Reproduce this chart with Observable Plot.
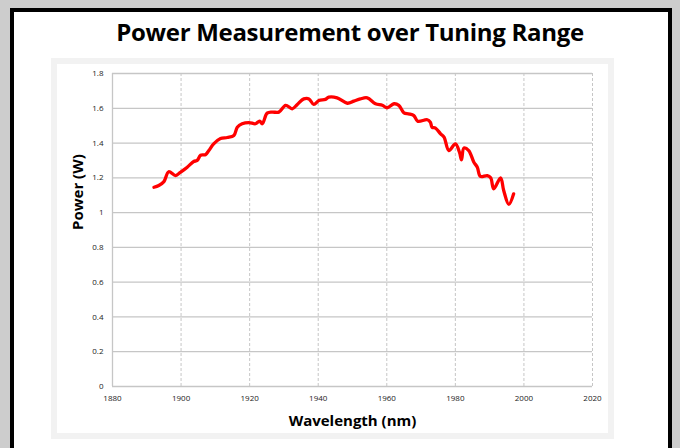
<!DOCTYPE html>
<html>
<head>
<meta charset="utf-8">
<script src="https://cdn.jsdelivr.net/npm/d3@7"></script>
<script src="https://cdn.jsdelivr.net/npm/@observablehq/plot@0.6"></script>
<style>
  html, body { margin: 0; padding: 0; }
  body { width: 680px; height: 448px; background: #cdcdcd; position: relative; overflow: hidden; font-family: "Open Sans", sans-serif; }
  #frame { position: absolute; left: 10px; top: 8px; width: 654px; height: 460px; border: 4px solid #000; background: #fff; }
  #title { position: absolute; left: 0; top: 15px; width: 700px; text-align: center; font-weight: bold; font-size: 24px; color: #000; letter-spacing: -0.3px; }
  #panel { position: absolute; left: 51px; top: 58px; width: 551px; height: 369px; border: 6px solid #f2f2f2; background: #fff; }
  #panel svg { display: block; }
</style>
</head>
<body>
<div id="frame"></div>
<div id="title">Power Measurement over Tuning Range</div>
<div id="panel"></div>
<script>
// Data
const wavelength = [1892.1, 1893.5, 1895.0, 1896.4, 1898.4, 1899.8, 1901.8, 1903.7, 1904.7, 1905.7, 1907.1, 1908.1, 1909.5, 1911.5, 1913.5, 1915.4, 1916.4, 1917.8, 1919.8, 1921.7, 1922.9, 1923.7, 1925.1, 1926.6, 1928.5, 1930.5, 1932.4, 1933.9, 1935.8, 1937.3, 1938.7, 1940.2, 1942.1, 1943.1, 1945.5, 1948.5, 1950.4, 1952.3, 1954.3, 1956.7, 1958.7, 1960.1, 1962.1, 1963.5, 1965.0, 1966.4, 1967.9, 1969.0, 1971.8, 1972.7, 1973.2, 1974.2, 1975.7, 1976.7, 1978.1, 1980.0, 1981.2, 1981.8, 1982.5, 1983.9, 1985.4, 1986.4, 1987.3, 1989.3, 1990.3, 1991.2, 1993.2, 1994.1, 1995.6, 1997.0];
const power = [1.146, 1.156, 1.178, 1.235, 1.213, 1.232, 1.261, 1.294, 1.300, 1.330, 1.333, 1.357, 1.395, 1.426, 1.432, 1.443, 1.491, 1.511, 1.518, 1.511, 1.526, 1.511, 1.572, 1.578, 1.578, 1.617, 1.597, 1.622, 1.654, 1.654, 1.622, 1.645, 1.651, 1.664, 1.660, 1.629, 1.641, 1.654, 1.660, 1.626, 1.617, 1.603, 1.626, 1.617, 1.574, 1.568, 1.558, 1.526, 1.534, 1.520, 1.491, 1.486, 1.453, 1.434, 1.357, 1.395, 1.347, 1.303, 1.372, 1.357, 1.290, 1.261, 1.208, 1.213, 1.200, 1.137, 1.200, 1.127, 1.047, 1.108];
const xTicks = [1880, 1900, 1920, 1940, 1960, 1980, 2000, 2020];
const yTicks = [0, 0.2, 0.4, 0.6, 0.8, 1, 1.2, 1.4, 1.6, 1.8];
const xLabel = "Wavelength (nm)";
const yLabel = "Power (W)";

const data = wavelength.map((w, i) => ({w, p: power[i]}));

const chart = Plot.plot({
  width: 551,
  height: 369,
  marginLeft: 55,
  marginRight: 16,
  marginTop: 9,
  marginBottom: 47,
  style: {fontFamily: "'Open Sans', sans-serif", background: "#fff", color: "#222"},
  x: {domain: [1880, 2020], ticks: xTicks, tickFormat: d => String(d), label: null},
  y: {domain: [0, 1.8], ticks: yTicks, tickFormat: d => String(d), label: null},
  marks: [
    Plot.ruleY(yTicks, {stroke: "#c6c6c6", strokeWidth: 1.3}),
    Plot.ruleX(xTicks.slice(1), {stroke: "#c6c6c6", strokeWidth: 1, strokeDasharray: "3,2"}),
    Plot.ruleX([1880], {stroke: "#c6c6c6", strokeWidth: 1.3}),
    Plot.axisX({ticks: xTicks, tickSize: 0, tickPadding: 9, fontSize: 8, tickFormat: d => String(d), label: null}),
    Plot.axisY({ticks: yTicks, tickSize: 0, tickPadding: 9, fontSize: 8, tickFormat: d => String(d), label: null}),
    Plot.lineY(data, {x: "w", y: "p", stroke: "#ff0000", strokeWidth: 3.3, curve: "catmull-rom"}),
    Plot.text([xLabel], {frameAnchor: "bottom", dy: 39, fontSize: 15, fontWeight: "bold", fill: "#000"}),
    Plot.text([yLabel], {frameAnchor: "left", dx: -34, rotate: -90, fontSize: 15, fontWeight: "bold", fill: "#000"})
  ]
});
document.getElementById("panel").appendChild(chart);
</script>
</body>
</html>
